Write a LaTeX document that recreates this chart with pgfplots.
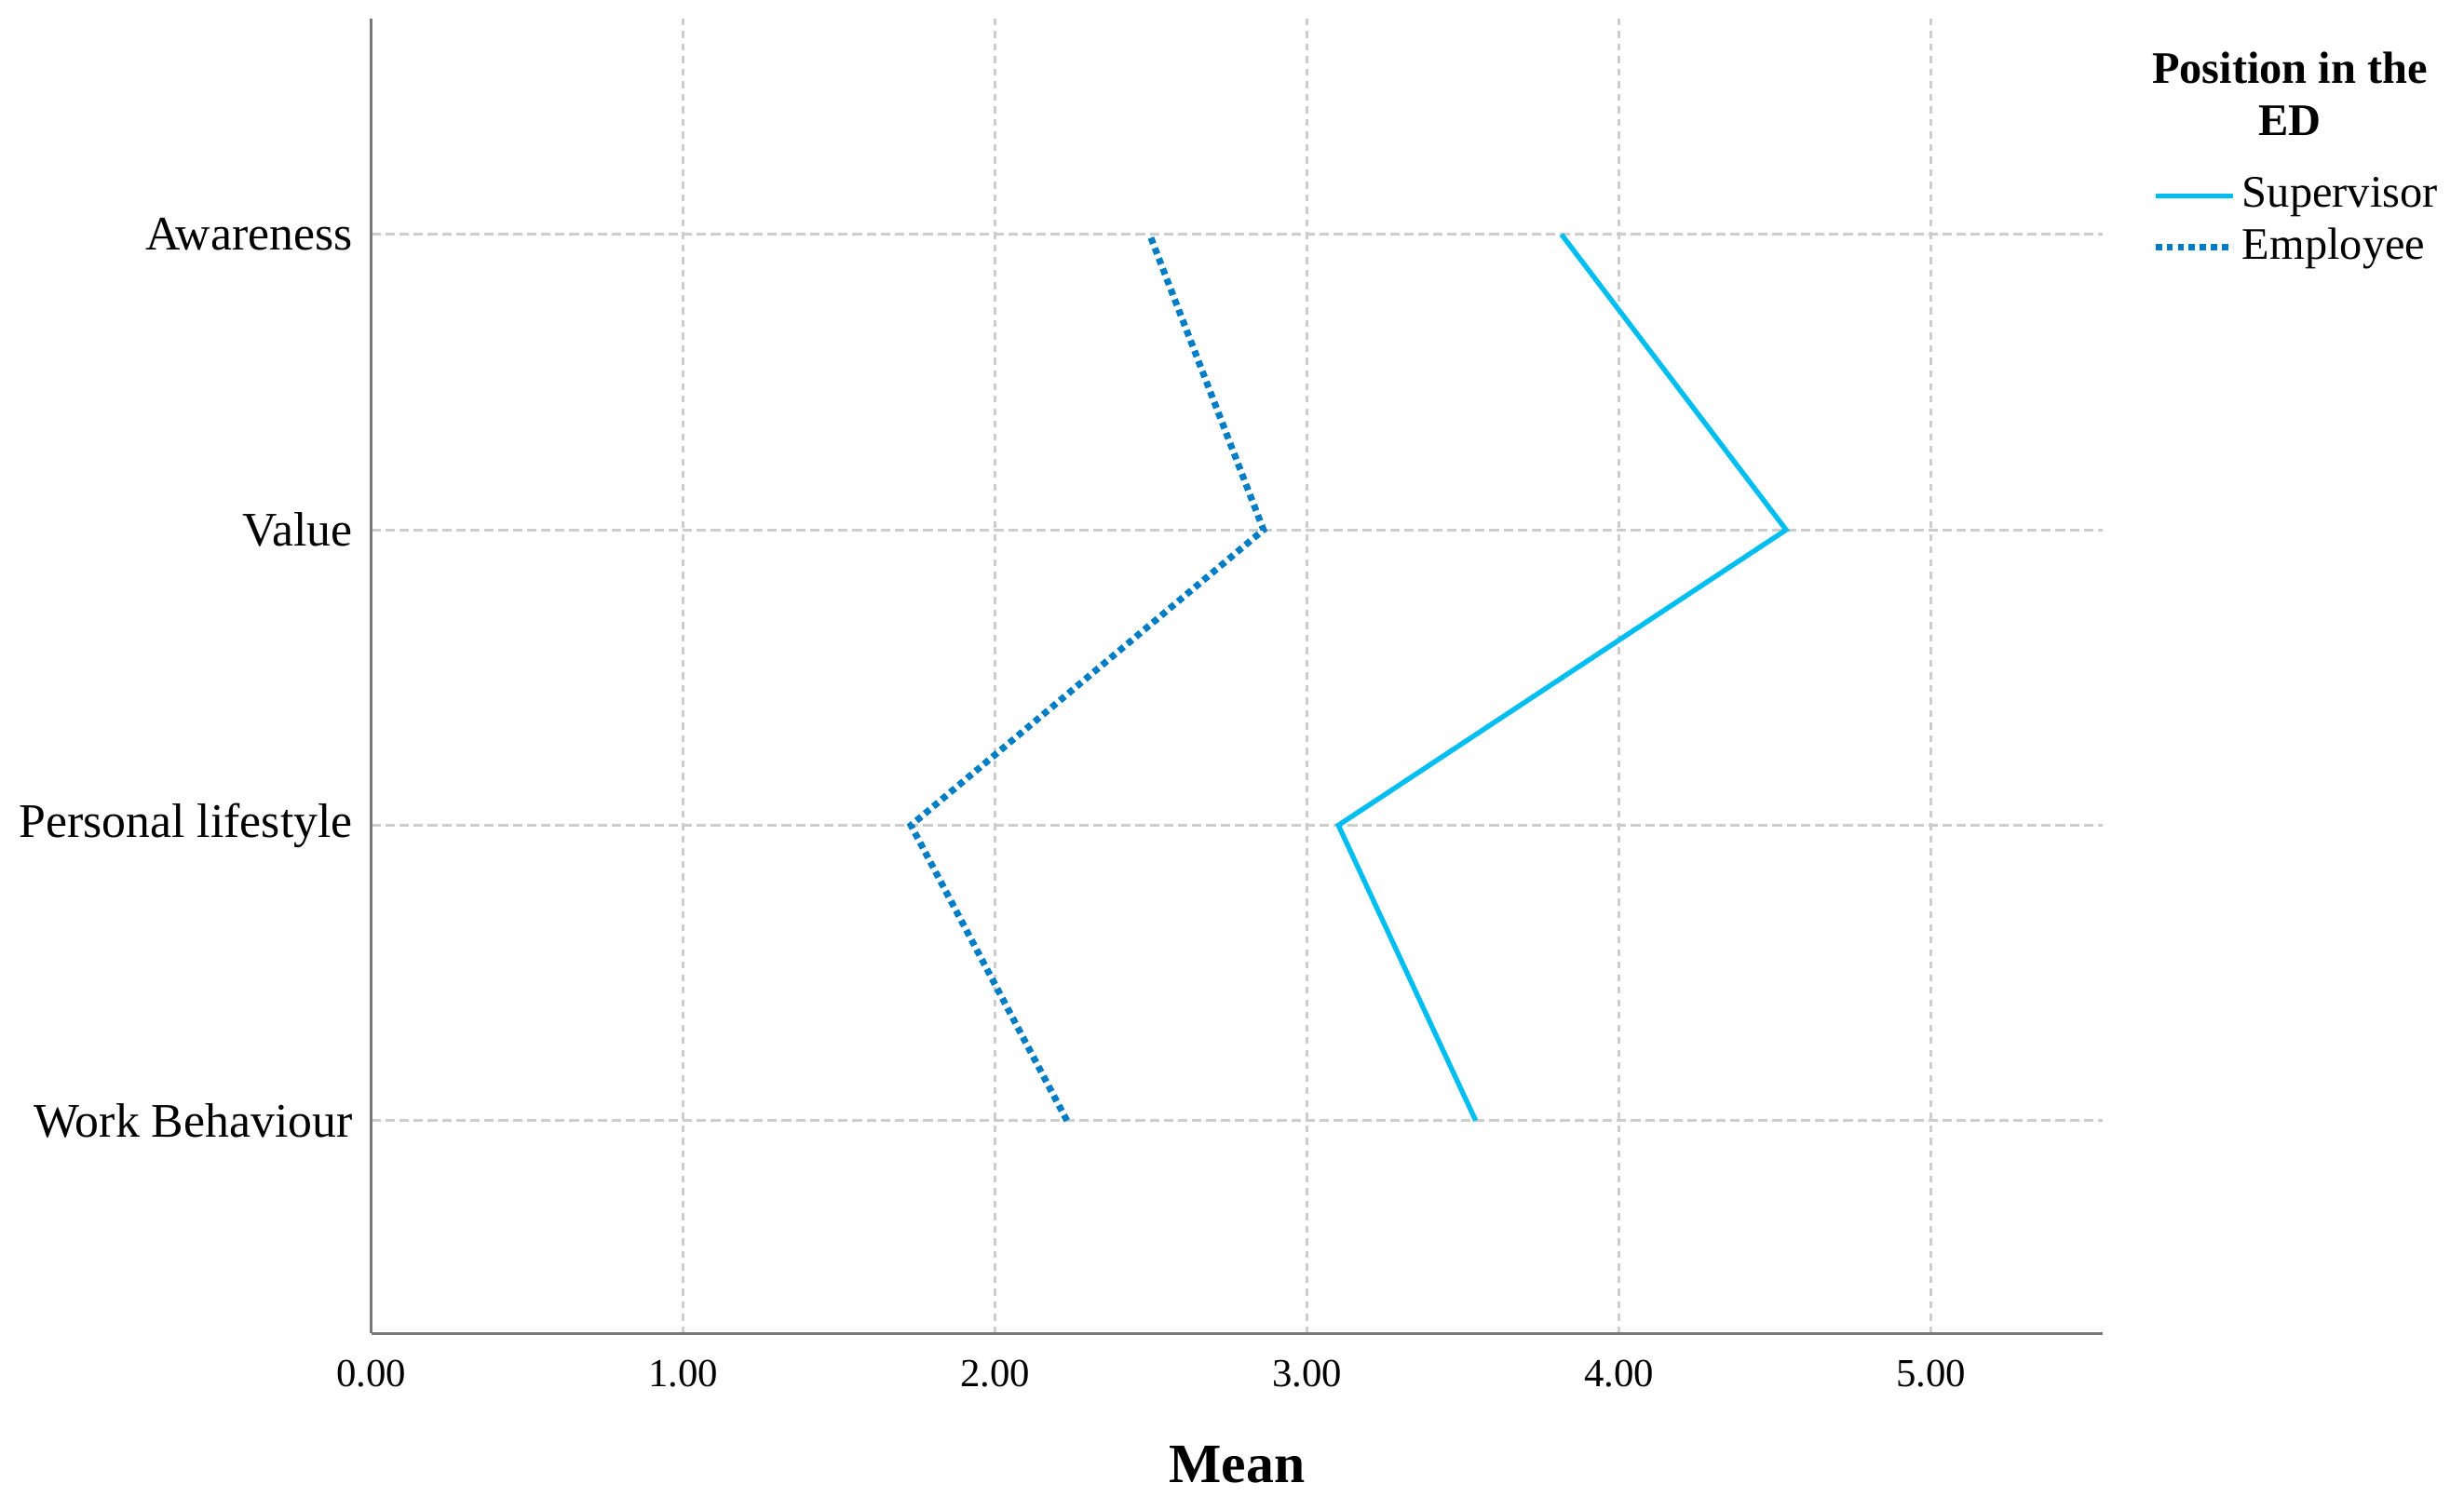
\documentclass[border=0pt]{standalone}
\usepackage{fontspec}
\setmainfont{Liberation Serif}
\usepackage{pgfplots}
\pgfplotsset{compat=1.18}
\definecolor{supc}{RGB}{0,190,240}
\definecolor{empc}{RGB}{0,125,196}
\definecolor{gridc}{RGB}{205,205,205}
\definecolor{axc}{RGB}{120,120,120}
\begin{document}
\begin{tikzpicture}
\begin{axis}[
  scale only axis,
  width=330.3pt, height=250.8pt,
  xmin=0, xmax=5.55, ymin=0.28, ymax=4.73,
  axis lines*=left,
  axis line style={draw=axc, line width=0.6pt},
  xtick={0,1,2,3,4,5},
  ytick={1,2,3,4},
  yticklabels={Work Behaviour,Personal lifestyle,Value,Awareness},
  major tick length=0pt,
  xticklabel style={font=\fontsize{7.6}{9}\selectfont, yshift=-1.5pt},
  yticklabel style={font=\fontsize{9.2}{11}\selectfont},
  /pgf/number format/assume math mode=true,
  /pgf/number format/.cd, fixed, fixed zerofill, precision=2, /pgfplots/.cd,
  grid=major,
  major x grid style={draw=gridc, line width=0.5pt, dash pattern=on 1.3pt off 1.1pt},
  major y grid style={draw=gridc, line width=0.5pt, dash pattern=on 1.8pt off 0.9pt},
  xlabel={\textbf{Mean}},
  xlabel style={font=\fontsize{10.6}{12}\selectfont, yshift=-4.5pt},
  legend style={at={(1.028,0.885)}, anchor=north west, draw=none, fill=none,
    font=\fontsize{8.6}{9.9}\selectfont, inner sep=0pt, row sep=0pt,
    nodes={inner sep=1.2pt}},
  legend cell align=left,
  legend image code/.code={\draw[#1] (0pt,0pt) -- (14.7pt,0pt);},
  clip=false,
]
\addplot[color=supc, line width=0.95pt] coordinates {(3.54,1) (3.10,2) (4.535,3) (3.815,4)};
\addlegendentry{Supervisor}
\addplot[color=empc, line width=1.25pt, dash pattern=on 1.2pt off 0.9pt] coordinates {(2.23,1) (1.73,2) (2.86,3) (2.495,4)};
\addlegendentry{Employee}
\node[font=\bfseries\fontsize{8.6}{9.9}\selectfont, align=center] at (rel axis cs:1.108,0.943) {Position in the\\ED};
\end{axis}
\pgfresetboundingbox
\path[use as bounding box] (-70.8pt,-33.6pt) rectangle (399.2pt,254.4pt);
\end{tikzpicture}
\end{document}
